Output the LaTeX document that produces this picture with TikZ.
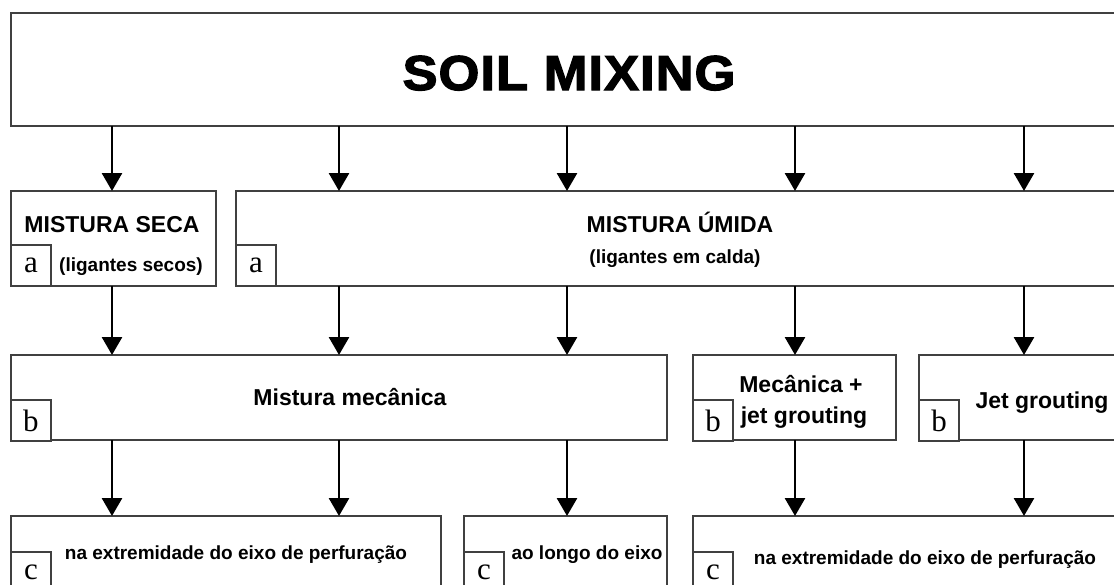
\documentclass[tikz,border=0pt]{standalone}
\usepackage{fontspec}
\setmainfont{Liberation Sans}
\newfontfamily\tnr{Liberation Serif}
\newfontfamily\heavy[FakeBold=2.5,LetterSpace=2]{Liberation Sans Bold}
\usetikzlibrary{arrows.meta}
\begin{document}
\begin{tikzpicture}[x=1pt,y=-1pt,
  box/.style={draw=black!75,line width=1.6pt,anchor=north west,inner sep=0pt,outer sep=0pt,fill=white},
  tag/.style={box,minimum width=40pt,minimum height=41pt,font=\tnr\fontsize{31}{31}\selectfont},
  arr/.style={line width=2.8pt,-{Triangle[width=20pt,length=18pt]}},
  lbl/.style={font=\bfseries\fontsize{23}{23}\selectfont,anchor=base,inner sep=0pt},
  sml/.style={font=\bfseries\fontsize{19}{19}\selectfont,anchor=base,inner sep=0pt},
]
\useasboundingbox (0,0) rectangle (1114,584);
\clip (0,0) rectangle (1114,584);
\fill[white] (0,0) rectangle (1114,584);

% column coordinates
\coordinate (k1) at (112,0);
\coordinate (k2) at (339,0);
\coordinate (k3) at (567,0);
\coordinate (k4) at (795,0);
\coordinate (k5) at (1024,0);

% boxes
\node[box,minimum width=1120pt,minimum height=113pt] (title) at (11,13) {};
\node[box,minimum width=205pt,minimum height=95pt] (seca) at (11,191) {};
\node[box,minimum width=890pt,minimum height=95pt] (umida) at (236,191) {};
\node[box,minimum width=656pt,minimum height=85pt] (mec) at (11,355) {};
\node[box,minimum width=203pt,minimum height=85pt] (mecjet) at (693,355) {};
\node[box,minimum width=210pt,minimum height=85pt] (jet) at (919,355) {};
\node[box,minimum width=430pt,minimum height=90pt] (c1) at (11,516) {};
\node[box,minimum width=203pt,minimum height=90pt] (c2) at (464,516) {};
\node[box,minimum width=440pt,minimum height=90pt] (c3) at (693,516) {};

% tags
\node[tag] (ta1) at (11,245) {a};
\node[tag] (ta2) at (236,245) {a};
\node[tag] (tb1) at (11,400) {b};
\node[tag] (tb2) at (693,400) {b};
\node[tag] (tb3) at (919,400) {b};
\node[tag] (tc1) at (11,552) {c};
\node[tag] (tc2) at (464,552) {c};
\node[tag] (tc3) at (693,552) {c};

% texts
\node[anchor=base,inner sep=0pt,font=\heavy\fontsize{49}{49}\selectfont] (tt) at (569,90) {\scalebox{1.07}[1]{SOIL MIXING}};
\node[lbl] (t1) at (112,232) {MISTURA SECA};
\node[sml] (t2) at (131,271) {(ligantes secos)};
\node[lbl] (t3) at (680,232) {MISTURA ÚMIDA};
\node[sml] (t4) at (675,263) {(ligantes em calda)};
\node[lbl] (t5) at (350,405) {Mistura mecânica};
\node[lbl] (t6) at (801,392) {Mecânica +};
\node[lbl] (t7) at (804,423) {jet grouting};
\node[lbl] (t8) at (1042,408) {Jet grouting};
\node[sml] (t9) at (236,559) {na extremidade do eixo de perfuração};
\node[sml] (t10) at (587,559) {ao longo do eixo};
\node[sml] (t11) at (925,564) {na extremidade do eixo de perfuração};

% arrows
\draw[arr] (title.south -| k1) -- (seca.north -| k1);
\draw[arr] (title.south -| k2) -- (umida.north -| k2);
\draw[arr] (title.south -| k3) -- (umida.north -| k3);
\draw[arr] (title.south -| k4) -- (umida.north -| k4);
\draw[arr] (title.south -| k5) -- (umida.north -| k5);

\draw[arr] (seca.south -| k1) -- (mec.north -| k1);
\draw[arr] (umida.south -| k2) -- (mec.north -| k2);
\draw[arr] (umida.south -| k3) -- (mec.north -| k3);
\draw[arr] (umida.south -| k4) -- (mecjet.north -| k4);
\draw[arr] (umida.south -| k5) -- (jet.north -| k5);

\draw[arr] (mec.south -| k1) -- (c1.north -| k1);
\draw[arr] (mec.south -| k2) -- (c1.north -| k2);
\draw[arr] (mec.south -| k3) -- (c2.north -| k3);
\draw[arr] (mecjet.south -| k4) -- (c3.north -| k4);
\draw[arr] (jet.south -| k5) -- (c3.north -| k5);
\end{tikzpicture}
\end{document}
